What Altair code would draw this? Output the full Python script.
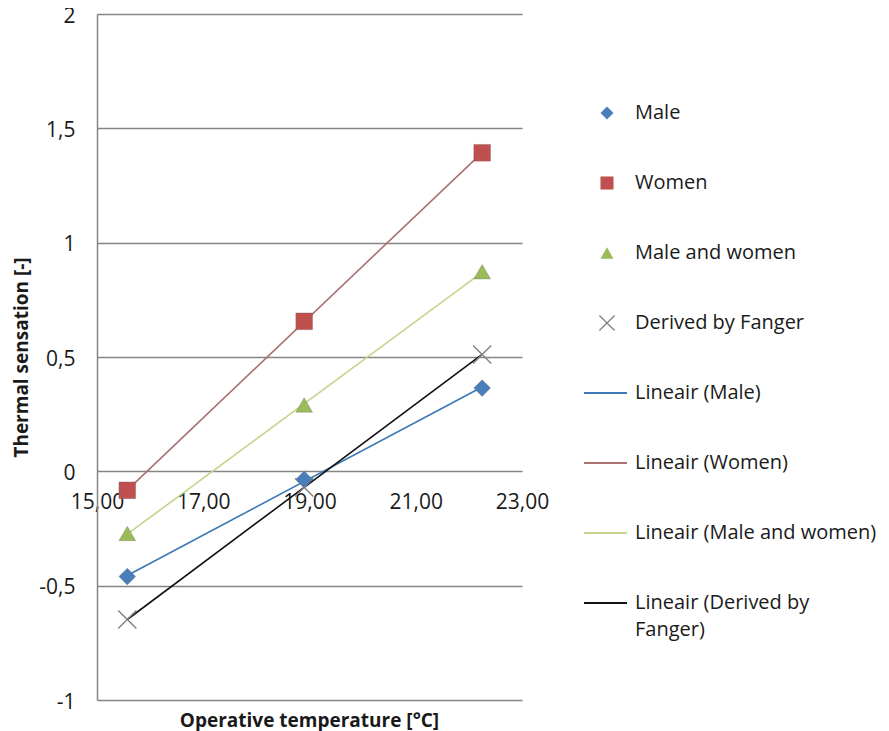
import altair as alt
import pandas as pd

# ---- data ----
temps = [15.57, 18.90, 22.25]
male = [-0.46, -0.035, 0.364]
women = [-0.083, 0.656, 1.393]
male_women = [-0.272, 0.290, 0.873]
fanger = [-0.648, -0.070, 0.511]

series_names = ["Male", "Women", "Male and women", "Derived by Fanger"]
trend_names = ["Lineair (Male)", "Lineair (Women)", "Lineair (Male and women)", "Lineair (Derived by"]
trend_names_2 = ["", "", "", "Fanger)"]

x_ticks = [15, 17, 19, 21, 23]
y_ticks = [-1, -0.5, 0, 0.5, 1, 1.5, 2]

# ---- styles ----
marker_fill = ["#4a7ebb", "#c0504d", "#9bbb59", "#808080"]
trend_stroke = ["#3b78b5", "#a87272", "#c3d58d", "#111111"]
x_path = "M-1,-1L1,1M-1,1L1,-1"
shapes = ["diamond", "square", "triangle-up", x_path]
FONT = "Open Sans"
TXT = "#1a1a1a"
GRID = "#858585"

rows = []
for name, vals in zip(series_names, [male, women, male_women, fanger]):
    for t, v in zip(temps, vals):
        rows.append({"series": name, "temp": t, "value": v})
df = pd.DataFrame(rows)

xenc = alt.X(
    "temp:Q",
    scale=alt.Scale(domain=[15, 23], nice=False, zero=False),
    axis=alt.Axis(
        values=x_ticks,
        labelExpr="replace(format(datum.value, '.2f'), '.', ',')",
        offset=-229, domain=False, ticks=False, grid=False,
        labelPadding=20, title=None, labelFontSize=21,
        labelColor=TXT, labelFont=FONT, labelFlush=False,
    ),
)
yenc = alt.Y(
    "value:Q",
    scale=alt.Scale(domain=[-1, 2], nice=False),
    axis=alt.Axis(
        values=y_ticks,
        labelExpr="replace(toString(datum.value), '.', ',')",
        grid=True, gridColor=GRID, gridWidth=1.5,
        domain=True, domainColor=GRID, domainWidth=1.5,
        ticks=False, labelPadding=22, labelOffset=2, labelFontSize=21,
        labelColor=TXT, labelFont=FONT,
        title="Thermal sensation [-]", titleFont=FONT,
        titleFontSize=19, titleFontWeight="bold", titleColor=TXT,
        titlePadding=7,
    ),
)

fill_scale = alt.Scale(domain=series_names, range=marker_fill)
stroke_scale = alt.Scale(domain=series_names, range=trend_stroke)
shape_scale = alt.Scale(domain=series_names, range=shapes)

lines = alt.Chart(df).transform_regression(
    "temp", "value", groupby=["series"]
).mark_line(strokeWidth=1.6).encode(
    x=xenc, y=yenc,
    stroke=alt.Stroke("series:N", scale=stroke_scale, legend=None),
)

x_marks = alt.Chart(df).transform_filter(
    alt.datum.series == "Derived by Fanger"
).mark_point(filled=False, size=330, strokeWidth=1.4, opacity=1).encode(
    x="temp:Q", y="value:Q",
    shape=alt.Shape("series:N", scale=shape_scale, legend=None),
    stroke=alt.value("#808080"),
)

filled_marks = alt.Chart(df).transform_filter(
    alt.datum.series != "Derived by Fanger"
).mark_point(filled=True, size=280, opacity=1, strokeWidth=0.8).encode(
    x="temp:Q", y="value:Q",
    shape=alt.Shape("series:N", scale=shape_scale, legend=None),
    fill=alt.Fill("series:N", scale=fill_scale, legend=None),
    stroke=alt.value("#5a5a5a"),
    strokeOpacity=alt.value(0.35),
)

main = alt.layer(lines, x_marks, filled_marks).properties(
    width=425, height=686,
    title=alt.TitleParams(
        "Operative temperature [°C]", orient="bottom", anchor="middle",
        frame="group", fontSize=19, font=FONT, fontWeight="bold",
        color=TXT, offset=0,
    ),
)

# ---- manual legend panel ----
leg_rows = []
for i, name in enumerate(series_names):
    leg_rows.append({"idx": i, "label": name, "label2": "", "series": name, "kind": "marker"})
for i, (name, l1, l2) in enumerate(zip(series_names, trend_names, trend_names_2)):
    leg_rows.append({"idx": 4 + i, "label": l1, "label2": l2, "series": name, "kind": "line"})
leg = pd.DataFrame(leg_rows)

ly = alt.Y("idx:Q", scale=alt.Scale(domain=[0, 7], range=[99, 589]), axis=None)

leg_filled = alt.Chart(leg).transform_filter(
    (alt.datum.kind == "marker") & (alt.datum.series != "Derived by Fanger")
).mark_point(filled=True, size=170, opacity=1).encode(
    x=alt.value(58), y=ly,
    shape=alt.Shape("series:N", scale=shape_scale, legend=None),
    fill=alt.Fill("series:N", scale=fill_scale, legend=None),
)
leg_x = alt.Chart(leg).transform_filter(
    (alt.datum.kind == "marker") & (alt.datum.series == "Derived by Fanger")
).mark_point(filled=False, size=230, strokeWidth=1.3, opacity=1).encode(
    x=alt.value(58), y=ly,
    shape=alt.Shape("series:N", scale=shape_scale, legend=None),
    stroke=alt.value("#808080"),
)
leg_rules = alt.Chart(leg).transform_filter(
    alt.datum.kind == "line"
).mark_rule(strokeWidth=1.8).encode(
    x=alt.value(35), x2=alt.value(78), y=ly,
    stroke=alt.Stroke("series:N", scale=stroke_scale, legend=None),
)
leg_text = alt.Chart(leg).mark_text(
    align="left", baseline="middle", fontSize=20, font=FONT, color=TXT
).encode(x=alt.value(86), y=ly, text="label:N")
leg_text2 = alt.Chart(leg).mark_text(
    align="left", baseline="middle", fontSize=20, font=FONT, color=TXT, dy=27
).encode(x=alt.value(86), y=ly, text="label2:N")

legend_panel = alt.layer(leg_filled, leg_x, leg_rules, leg_text, leg_text2).properties(
    width=300, height=686
)

chart = alt.hconcat(main, legend_panel, spacing=0).configure_view(
    stroke=None
).properties(
    padding={"left": 4, "top": -3, "right": 2, "bottom": 0},
    background="white",
)

chart.save("out.html", embed_options={"renderer": "svg", "actions": False})
